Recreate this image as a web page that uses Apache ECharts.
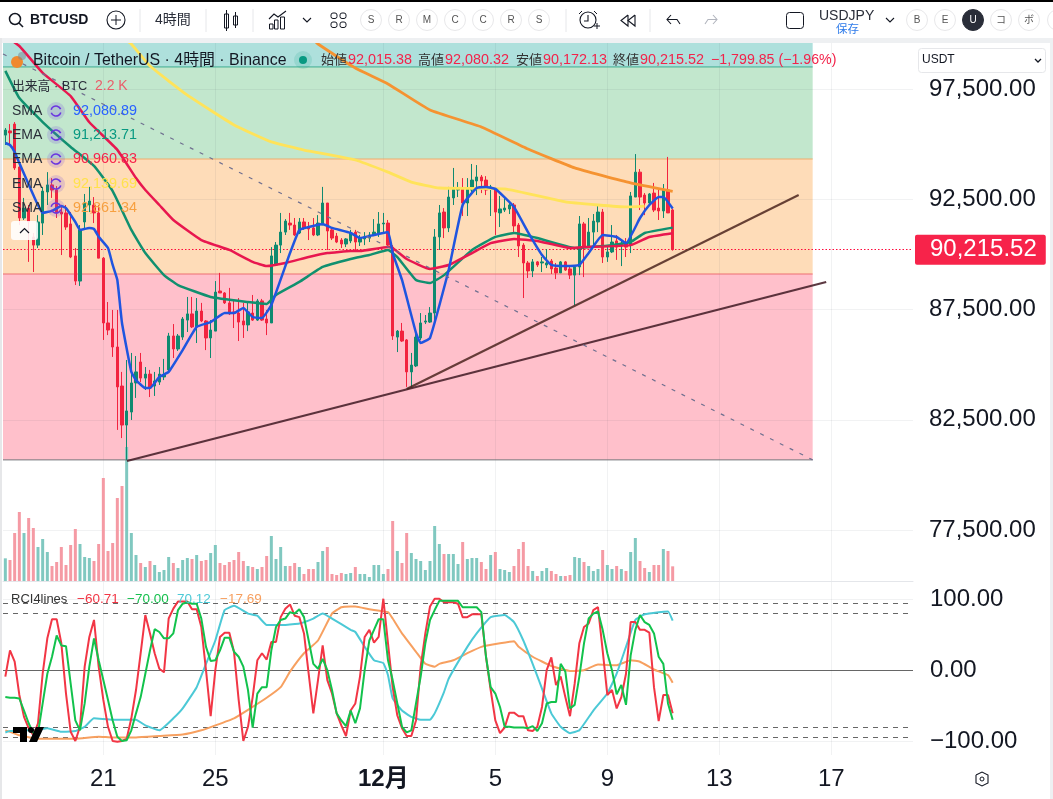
<!DOCTYPE html>
<html>
<head>
<meta charset="utf-8">
<title>BTCUSD</title>
<style>
  html, body { margin: 0; padding: 0; background: #fff; }
  #main { width: 1053px; height: 799px; }
</style>
</head>
<body>
<div id="main"></div>
<script src="https://cdn.jsdelivr.net/npm/echarts@6/dist/echarts.min.js"></script>
<script>
const openVals = [
  95410,95600,95910,93960,91650,92100,90790,90420,91420,92830,
  93150,92920,91920,91880,91380,89930,88790,91470,92240,92240,
  91880,89830,86890,86620,85800,84030,82260,82850,84170,85120,
  84390,84570,84030,84210,84440,84760,86300,85710,86250,87020,
  87300,86710,87430,86980,86210,86520,88340,88250,87800,87390,
  87340,86980,86800,87340,87020,87890,87070,86890,89520,90420,
  91010,91420,91330,90970,91470,91240,91200,90880,91330,92330,
  91110,90830,90650,90470,90610,91010,90560,90700,90740,90880,
  90970,91380,91420,90330,86250,86520,86120,84670,84940,86210,
  86930,86930,87340,90790,91920,91200,92560,92920,93010,92330,
  92920,93330,93510,93370,93010,92920,91880,92010,92060,92240,
  91330,90420,89610,89250,89660,89610,89520,89700,89380,89160,
  89660,89340,89060,89430,91380,90330,91010,91470,91920,89880,
  90110,90610,90420,90510,90420,92600,93730,92690,92330,92780,
  92100,91970,92920,92015.38
];
const highVals = [
  95730,95910,96000,94050,92560,92240,90970,91780,93060,93730,
  93460,93100,92150,92240,91920,90290,91330,92740,93060,92600,
  92240,89880,87840,87480,87480,84670,85210,85530,85390,85530,
  84890,84760,84670,84890,85260,86440,86840,86390,87160,88070,
  88070,88020,87800,87020,87020,88790,89160,88290,88480,87930,
  88020,87800,87840,88160,87980,87980,87480,90330,90560,91880,
  91600,91880,91650,91650,91650,91470,91650,91780,93060,92330,
  91200,90970,90740,90740,91110,91110,90880,91010,91010,91600,
  91920,91880,91560,90420,86570,86890,86160,85530,86440,87340,
  87250,87610,91150,92240,92100,93060,93920,93280,93460,93460,
  94100,94050,93600,93550,93150,93010,92650,92560,92380,92330,
  91420,90510,89700,89790,89700,89880,90240,89790,89610,89700,
  89700,89430,89430,91740,91470,91650,91830,92240,92060,90420,
  91330,90880,90650,90740,92830,94550,93870,92780,92780,93240,
  92920,93190,94420,92080.32
];
const lowVals = [
  94960,94960,93830,91330,91560,89660,89200,90290,90880,92240,
  92560,91650,89970,91110,89830,88610,88570,91110,91920,91420,
  89830,86120,86340,85350,82040,81670,80680,82490,83490,84210,
  83850,83530,83580,84080,84300,84670,85300,85620,86120,86480,
  86660,85980,86930,85660,85300,86520,88250,87750,87250,86660,
  86070,86210,86520,86980,86980,86980,86340,86890,89520,90060,
  90880,91110,90830,90920,91110,90650,90830,90830,91330,90200,
  90650,90510,90290,90330,90510,90200,90380,90420,90560,90830,
  90790,90970,90380,86120,85570,86030,83990,83990,84890,86120,
  86840,86890,86890,90200,90740,91010,92240,92600,91740,91740,
  92690,92690,92780,92690,91740,90880,91240,91920,91830,91010,
  89880,88020,88930,88970,89430,89200,89380,89110,88880,89160,
  89250,88880,87700,89060,88970,90290,90420,91010,89610,89660,
  90060,89750,89470,89880,90060,92600,92010,91780,92280,91920,
  91560,91650,91880,90172.13
];
const closeVals = [
  95640,95510,93920,91650,92100,91470,90420,91470,92870,93150,
  92920,91880,91830,91240,89880,88790,91110,92330,92420,91880,
  89830,86890,86570,85800,83990,82260,82900,84170,84670,84390,
  84570,83940,84260,84570,84530,86300,85710,86300,87070,87300,
  86710,87430,86980,86210,86570,88290,88250,87800,87300,87340,
  86930,86800,87390,87020,87890,87020,86890,89930,90420,91010,
  91510,91330,90880,91470,91200,91150,90880,91420,92330,91060,
  90740,90560,90470,90700,90970,90560,90740,90790,90880,91010,
  91380,91420,90420,86300,86520,86070,84670,84980,86250,86890,
  86980,87340,90790,91880,91200,92600,93010,93010,92330,93010,
  93370,93510,93330,92920,93060,91920,92060,92100,92240,91290,
  90380,89610,89250,89660,89520,89660,89610,89340,89160,89660,
  89290,89060,89430,91380,90330,91010,91510,91920,89880,90110,
  90560,90330,90510,90330,92650,93730,92600,92330,92740,92010,
  91970,92920,91880,90215.52
];
const volumeVals = [
  3400,3150,7200,10350,7200,9450,7950,5100,6300,4350,
  2250,2850,5100,2400,5400,7800,5550,3600,3450,3000,
  5550,15450,4500,5700,12450,14250,20100,7200,3900,2700,
  2100,3000,2400,1350,1650,3600,2700,1950,3150,3450,
  3300,3900,3000,3150,4200,5400,2700,2400,2850,3150,
  4350,3000,2250,2100,1800,2100,3750,6750,3300,5100,
  2250,2250,2700,2100,1050,1800,1800,2850,4500,5100,
  1050,900,1200,1050,1200,2100,1050,1050,600,2400,
  2400,1050,1800,9000,4500,2700,7200,4200,3300,3000,
  1650,3000,8250,5550,4050,4050,4050,2550,5850,3300,
  3450,3450,2850,1800,3900,4350,1800,1650,1350,2250,
  4800,5850,2250,1500,750,1500,1950,1500,1050,750,
  750,900,3600,3450,2850,2250,1500,1800,4650,2400,
  1800,2250,1800,1500,4350,6450,3000,1950,1350,2400,
  2400,4800,4500,2200
];

// moving averages as [bar, price] read at the turning points
const smaBlue = [
  [0,95050],[1,94960],[2,94640],[3,94140],[6,92690],[8,91880],[10,91970],[12,92190],[13,92100],
  [15,91470],[16,91110],[18,91200],[19,91150],[20,90800],[22,90290],[23,89520],[24,88840],[25,86890],
  [27,84670],[28,84300],[30,83940],[31,83940],[33,84440],[35,84670],[38,85660],[41,86710],[44,86930],
  [47,87340],[49,87340],[51,87570],[53,87160],[55,87120],[57,87700],[61,90060],[63,91110],[65,91240],
  [68,91380],[70,91200],[74,90970],[76,90740],[79,90880],[82,91010],[83,90060],[85,88840],[88,86440],
  [89,85980],[91,86210],[95,89290],[98,92240],[101,93010],[103,93060],[105,92970],[109,92150],[112,91010],
  [115,89970],[117,89520],[120,89470],[123,89520],[125,90060],[128,90880],[131,90790],[133,90510],
  [136,91650],[138,92240],[140,92600],[141,92600],[143,92080.89]
];
const emaRed = [
  [0,99900],[3,99450],[8,98230],[14,97180],[18,95990],[24,94740],[28,93460],[30,92920],[33,92240],
  [36,91560],[42,90650],[48,90200],[53,89660],[56,89470],[60,89610],[65,89880],[69,90060],[74,90150],
  [76,90150],[82,90330],[83,90290],[86,89790],[91,89340],[95,89520],[100,90060],[104,90510],[109,90700],
  [114,90610],[121,90290],[124,90330],[134,90420],[138,90790],[143,90960.83]
];
const emaGreen = [
  [0,98320],[3,97090],[8,96000],[14,94870],[19,94010],[23,92870],[27,91110],[30,90060],[34,89060],
  [37,88610],[44,88070],[52,87840],[56,87750],[58,88160],[63,88750],[68,89430],[74,89790],[78,89970],
  [82,90200],[84,89880],[88,88840],[91,88700],[94,89060],[100,90200],[105,90790],[109,90970],[114,90740],
  [122,90290],[130,90420],[134,90560],[137,90970],[143,91213.71]
];
const emaYellow = [
  [25,99860],[27,99540],[31,98540],[39,97220],[49,95870],[57,95100],[64,94730],[75,94280],[82,93730],
  [87,93280],[93,93010],[107,92970],[120,92380],[127,92240],[133,92150],[137,92190]
];
const smaOrange = [
  [66,99720],[67,99540],[75,98450],[82,97730],[91,96550],[102,95780],[112,94780],[122,93920],[134,93240],[143,92861.34]
];

// RCI4lines
const rciRed = [
  -9,28,12,-35,-66,-82,-92,-75,-5,45,72,72,38,-33,-87,-100,-80,5,47,71,
  5,-42,-80,-100,-101,-100,-97,-68,-28,24,78,52,24,2,-3,73,87,97,97,97,
  86,86,61,0,-65,0,47,53,53,26,-42,-100,-80,-38,14,24,15,40,40,75,
  87,93,77,75,52,-5,-61,-14,35,-14,-33,-61,-78,-93,-57,-47,-9,47,57,39,
  47,101,38,-24,-64,-82,-93,-93,-71,5,52,90,101,101,96,96,96,94,75,75,
  79,79,79,19,-28,-71,-89,-81,-60,-60,-65,-65,-85,-86,-80,-52,0,18,-21,-9,
  -38,-65,-19,38,61,66,85,89,28,-35,-28,-54,-38,-5,68,68,57,57,53,-24,
  -72,-35,-35,-60.71
];
const rciGreen = [
  -38,-39,-39,-40,-57,-75,-89,-89,-47,-5,19,49,35,34,-19,-71,-85,-47,5,45,
  14,-14,-42,-71,-94,-100,-99,-85,-61,-38,-5,28,58,54,45,45,52,85,94,96,
  94,94,73,33,13,14,28,46,46,26,19,5,-28,-81,-33,-24,-24,28,61,71,
  73,82,80,86,75,42,9,2,16,0,-28,-61,-71,-79,-57,-75,-54,0,42,57,
  72,72,14,-14,-47,-80,-88,-85,-47,-9,38,71,85,98,98,98,98,98,89,89,
  89,89,82,19,-24,-33,-52,-80,-80,-81,-81,-81,-82,-79,-86,-75,-47,-45,-45,9,
  -2,-54,-49,-9,38,73,80,83,57,24,0,-34,-21,-49,21,57,78,68,64,52,
  19,9,-47,-70.00
];
const rciCyan = [
  [0,-88],[1,-86],[7,-84],[9,-82],[12,-87],[15,-86],[17,-80],[19,-68],[23,-70],[28,-70],[30,-78],[33,-85],
  [36,-68],[38,-54],[41,-24],[43,9],[45,42],[47,85],[49,91],[52,80],[54,77],[56,64],[60,64],[63,66],[66,73],
  [68,80],[70,73],[74,57],[75,54],[77,33],[79,14],[81,10],[82,-7],[83,-40],[85,-57],[87,-66],[89,-70],[91,-70],
  [92,-61],[94,-31],[95,-12],[99,33],[101,52],[104,75],[107,78],[109,68],[111,42],[113,9],[115,-26],[117,-61],
  [119,-80],[121,-89],[123,-85],[126,-57],[129,-33],[131,-5],[133,33],[135,71],[137,79],[140,82],[142,83],[143,70.12]
];
const rciOrange = [
  [0,-85],[1,-87],[3,-92],[7,-97],[11,-97],[15,-97],[20,-94],[23,-95],[28,-95],[33,-93],[38,-91],[42,-85],
  [45,-78],[49,-68],[52,-56],[56,-39],[59,-24],[61,-2],[64,24],[67,42],[70,80],[72,89],[74,90],[75,90],[78,86],
  [82,82],[83,73],[85,52],[88,26],[90,9],[92,5],[93,9],[96,14],[99,24],[102,33],[106,38],[109,41],[110,33],
  [113,19],[117,6],[121,-1],[124,0],[127,8],[131,7],[134,14],[136,12],[139,1],[142,-7],[143,-17.69]
];

// drawings on the chart: [bar, price]
const trendLower = [[26.07,80630],[175.9,88750]];
const trendUpper = [[86,83900],[170,92690]];
const trendDashed = [[-0.5,99090],[173,80680]];
const zoneEndBar = 173;
const zoneBounds = [99586,98500,94325,89110,80680];
const zoneColors = ['#aee0dc','#c2e7cd','#fedcb8','#ffc0cb'];
const zoneEdgeColors = ['#3fae8f','#eeac6c','#ee6f72','#74787c'];

const dayBars = [21,45,81,105,129,153,177];
const dayLabels = ['21','25','12月','5','9','13','17'];
const priceTicks = [77500,82500,87500,92500,97500];
const rciTicks = [100,0,-100];
const rciDashes = [95,80,-80,-95];
const lastPrice = 90215.52;

const barCount = 195;
const barNames = Array.from({length: barCount}, (_, i) => String(i));

const upColor = '#0f8a70';
const downColor = '#f2233f';
const uiFont = '"Liberation Sans","Noto Sans CJK JP",sans-serif';

var chart = echarts.init(document.getElementById('main'), null, {renderer: 'canvas'});

const fmtPrice = v => v.toLocaleString('en-US', {minimumFractionDigits: 2, maximumFractionDigits: 2}).replace('-', '−');

function maLine(name, data, color, width, xIdx, yIdx, z) {
  return {
    name: name, type: 'line', data: data,
    xAxisIndex: xIdx, yAxisIndex: yIdx,
    showSymbol: false, symbol: 'none', smooth: 0.12, z: z || 4,
    lineStyle: {color: color, width: width},
    silent: true
  };
}

function txt(x, y, text, color, size, extra) {
  return {
    type: 'text', z: 100, silent: true,
    style: Object.assign({x: x, y: y, text: text, fill: color, font: (size || 14) + 'px ' + uiFont,
      verticalAlign: 'middle', textAlign: 'left'}, extra || {})
  };
}
function rect(x, y, w, h, fill, r, stroke) {
  return {type: 'rect', z: 90, silent: true, shape: {x: x, y: y, width: w, height: h, r: r || 0},
    style: {fill: fill, stroke: stroke || null, lineWidth: stroke ? 1 : 0}};
}
function ln(x1, y1, x2, y2, color, w) {
  return {type: 'line', z: 95, silent: true, shape: {x1: x1, y1: y1, x2: x2, y2: y2},
    style: {stroke: color, lineWidth: w || 1}};
}
function circ(x, y, r, fill, stroke, w) {
  return {type: 'circle', z: 95, silent: true, shape: {cx: x, cy: y, r: r},
    style: {fill: fill || 'transparent', stroke: stroke || null, lineWidth: w || 1}};
}
function poly(points, stroke, w, fill) {
  return {type: fill ? 'polygon' : 'polyline', z: 95, silent: true, shape: {points: points},
    style: {stroke: stroke || null, lineWidth: w || 1.3, fill: fill || 'transparent'}};
}
function pill(x, letter, dark) {
  return [
    circ(x, 20, 10.5, dark ? '#2a2e39' : '#fff', dark ? '#2a2e39' : '#e8e8ea', 1),
    txt(x, 20, letter, dark ? '#fff' : '#555', 10, {textAlign: 'center'})
  ];
}

// toolbar, header strip and the other bits of chrome
let chrome = [
  rect(0, 0, 1053, 2, '#000'),
  rect(0, 38, 1053, 5, '#eef0f2'),
  rect(0, 38, 2, 761, '#e6e7e9'),
  rect(1050, 38, 3, 761, '#eef0f2'),
  // search
  circ(15, 19, 5.5, null, '#131722', 1.5), ln(19, 23, 23, 27, '#131722', 1.6),
  txt(30, 20, 'BTCUSD', '#131722', 14, {font: 'bold 14px ' + uiFont}),
  circ(116, 20, 9, null, '#131722', 1.1), ln(111, 20, 121, 20, '#131722'), ln(116, 15, 116, 25, '#131722'),
  ln(140, 9, 140, 32, '#e6e7ea'),
  txt(155, 20, '4時間', '#2a2e39', 14),
  ln(206, 9, 206, 32, '#e6e7ea'),
  // candle icon
  rect(224.5, 14, 4, 14, '#fff', 0, '#131722'), ln(226.5, 10, 226.5, 31, '#131722'),
  rect(233.5, 16, 4, 9, '#fff', 0, '#131722'), ln(235.5, 12, 235.5, 28, '#131722'),
  ln(253, 9, 253, 32, '#e6e7ea'),
  // indicators icon
  poly([[269, 19], [274, 14], [278, 17], [286, 11]], '#131722', 1.1),
  rect(269.5, 24, 3.5, 5, '#fff', 0, '#131722'), rect(274.5, 20, 3.5, 9, '#fff', 0, '#131722'), rect(280.5, 17, 4, 12, '#fff', 0, '#131722'),
  poly([[303, 18], [307, 22], [311, 18]], '#131722', 1.1),
  // layout icon
  rect(331, 13, 6, 5.5, '#fff', 2, '#131722'), rect(340, 13, 6, 5.5, '#fff', 2, '#131722'),
  rect(331, 22, 6, 5.5, '#fff', 2, '#131722'), rect(340, 22, 6, 5.5, '#fff', 2, '#131722'),
  ln(566, 9, 566, 32, '#e6e7ea'),
  // alarm
  circ(588, 20, 8, null, '#131722', 1.1), poly([[588, 15], [588, 21], [584, 21]], '#131722', 1.1),
  ln(579, 14, 582, 11, '#131722'), ln(594, 11, 597, 14, '#131722'), ln(594, 26, 600, 26, '#131722'), ln(597, 23, 597, 29, '#131722'),
  // rewind
  poly([[628, 15], [621, 20.5], [628, 26], [628, 15]], '#131722', 1.1), poly([[635, 15], [628, 20.5], [635, 26], [635, 15]], '#131722', 1.1),
  ln(650, 9, 650, 32, '#e6e7ea'),
  // undo, redo
  poly([[671, 15], [667, 19.5], [671, 24]], '#131722', 1.1), poly([[667, 19.5], [677, 19.5], [680, 24]], '#131722', 1.1),
  poly([[713, 15], [717, 19.5], [713, 24]], '#b2b5be', 1.1), poly([[717, 19.5], [708, 19.5], [705, 24]], '#b2b5be', 1.1),
  // saved layout
  rect(786.5, 12.5, 17, 16, '#fff', 3, '#131722'),
  txt(819, 16, 'USDJPY', '#2a2e39', 14),
  txt(836, 30, '保存', '#2e7bea', 11.5),
  poly([[886, 18], [890, 22], [894, 18]], '#131722', 1.1),
  // price scale selector
  rect(918.5, 48.5, 127, 24, '#fff', 3, '#e6e7ea'),
  txt(922, 60, 'USDT', '#131722', 12),
  poly([[1035, 59], [1038, 62], [1041, 59]], '#131722', 1.3),
  // legend, first line
  circ(17, 62, 6, '#f0892e'),
  circ(22, 56, 4, 'rgba(120,130,140,.5)'),
  txt(33, 61, 'Bitcoin / TetherUS · 4時間 · Binance', '#131722', 15.9),
  circ(303, 60, 9, 'rgba(8,153,129,.14)'), circ(303, 60, 4, '#089981'),
  txt(321, 60, '始値', '#333', 13), txt(348, 60.5, '92,015.38', '#f2234a', 14.4),
  txt(418, 60, '高値', '#333', 13), txt(445, 60.5, '92,080.32', '#f2234a', 14.4),
  txt(516, 60, '安値', '#333', 13), txt(543, 60.5, '90,172.13', '#f2234a', 14.4),
  txt(613, 60, '終値', '#333', 13), txt(640, 60.5, '90,215.52', '#f2234a', 14.4),
  txt(711, 60.5, '−1,799.85 (−1.96%)', '#f2234a', 14.2),
  // volume row
  txt(12, 86, '出来高 · BTC', '#2a2e39', 12.8),
  txt(95, 86, '2.2 K', '#ea5d6a', 14),
  // RCI legend
  txt(11, 599, 'RCI4lines', '#333', 13),
  txt(77, 599, '−60.71', '#f23645', 13.5),
  txt(127, 599, '−70.00', '#16c04e', 13.5),
  txt(177, 599, '70.12', '#4cc9d6', 13.5),
  txt(220, 599, '−17.69', '#f7a060', 13.5),
  // collapse arrow
  rect(11, 221, 27, 19, 'rgba(255,255,255,.88)', 3),
  poly([[20, 233], [24.5, 228.5], [29, 233]], '#131722', 1.2),
  // tradingview mark
  rect(13, 727, 14, 6, '#000'), rect(20, 727, 7, 15, '#000'),
  circ(31, 730, 3, '#000'),
  poly([[36, 727], [44, 727], [37, 742], [29, 742]], null, 0, '#000'),
  // settings, bottom right
  poly([[976, 775], [982, 772], [988, 775], [988, 783], [982, 786], [976, 783], [976, 775]], '#131722', 1.1),
  circ(982, 779, 2, null, '#131722', 1)
];
[[371, 'S'], [399, 'R'], [427, 'M'], [455, 'C'], [483, 'C'], [511, 'R'], [539, 'S'],
 [917, 'B'], [945, 'E'], [1001, 'コ'], [1029, 'ボ']].forEach(p => { chrome = chrome.concat(pill(p[0], p[1])); });
chrome = chrome.concat(pill(973, 'U', true));
chrome.push(circ(1058, 20, 10.5, '#fff', '#e8e8ea', 1));
[[111, 'SMA', '92,080.89', '#2962ff'], [135, 'EMA', '91,213.71', '#089981'], [159, 'EMA', '90,960.83', '#f7234a'],
 [184, 'EMA', '92,139.69', '#ffe14d'], [208, 'SMA', '92,861.34', '#f7a040']].forEach(r => {
  chrome.push(txt(12, r[0], r[1], '#2a2e39', 14));
  chrome.push(circ(56, r[0], 9, 'rgba(120,80,220,.2)'));
  chrome.push({type: 'arc', z: 95, silent: true, shape: {cx: 56, cy: r[0], r: 5, startAngle: 0.3, endAngle: 2.8}, style: {stroke: '#6a35e0', lineWidth: 1.6, fill: 'transparent'}});
  chrome.push({type: 'arc', z: 95, silent: true, shape: {cx: 56, cy: r[0], r: 5, startAngle: 3.4, endAngle: 5.9}, style: {stroke: '#6a35e0', lineWidth: 1.6, fill: 'transparent'}});
  chrome.push(txt(73, r[0], r[2], r[3], 14.4));
});

const faintGrid = {color: 'rgba(60,70,90,0.07)', width: 1, type: 'solid'};

var option = {
  animation: false,
  backgroundColor: '#fff',
  graphic: {elements: chrome},
  grid: [
    {left: 3, right: 140, top: 43, height: 538},
    {left: 3, right: 140, top: 582, height: 173}
  ],
  xAxis: [
    {type: 'category', gridIndex: 0, data: barNames, boundaryGap: true,
      axisLine: {show: true, lineStyle: {color: '#e4e6ea'}}, axisTick: {show: false}, axisLabel: {show: false}, splitLine: {show: false}},
    {type: 'value', gridIndex: 0, min: -0.5, max: barCount - 0.5, show: false},
    {type: 'category', gridIndex: 1, data: barNames, boundaryGap: true,
      axisLine: {show: false}, axisTick: {show: false}, splitLine: {show: false},
      axisLabel: {
        show: true, margin: 12, fontSize: 24, color: '#131722', fontFamily: uiFont,
        hideOverlap: false,
        interval: (i) => dayBars.indexOf(i) >= 0,
        formatter: (v, i) => {
          const s = dayLabels[dayBars.indexOf(i)];
          return s === '12月' ? '{b|' + s + '}' : s;
        },
        rich: {b: {fontSize: 24, fontWeight: 'bold', color: '#131722', fontFamily: uiFont}}
      }},
    {type: 'value', gridIndex: 1, min: -0.5, max: barCount - 0.5, show: false}
  ],
  yAxis: [
    {type: 'value', gridIndex: 0, position: 'right', min: 75188, max: 99586, scale: true,
      axisLine: {show: false}, axisTick: {show: false}, splitLine: {show: false},
      axisLabel: {customValues: priceTicks, margin: 16, fontSize: 24, color: '#131722', fontFamily: uiFont, formatter: fmtPrice}},
    {type: 'value', gridIndex: 0, min: 0, max: 80700, show: false},
    {type: 'value', gridIndex: 1, position: 'right', min: -119.86, max: 124.66,
      axisLine: {show: false}, axisTick: {show: false}, splitLine: {show: false},
      axisLabel: {customValues: rciTicks, margin: 17, fontSize: 24, color: '#131722', fontFamily: uiFont, formatter: fmtPrice}}
  ],
  series: [
    // zones, grid lines and level lines
    {type: 'line', xAxisIndex: 1, yAxisIndex: 0, data: [], silent: true, symbol: 'none',
      markArea: {silent: true, z: 1,
        data: zoneColors.map((c, i) => [
          {coord: [-0.5, zoneBounds[i]], itemStyle: {color: c}},
          {coord: [zoneEndBar, zoneBounds[i + 1]]}
        ])
      },
      markLine: {silent: true, symbol: 'none', z: 2, animation: false, label: {show: false}, lineStyle: faintGrid,
        data: priceTicks.map(p => ({yAxis: p})).concat(dayBars.map(b => ({xAxis: b})))}
    }
  ].concat(zoneEdgeColors.map((c, i) => ({
    type: 'line', xAxisIndex: 1, yAxisIndex: 0, symbol: 'none', silent: true, z: 2,
    data: [[-0.5, zoneBounds[i + 1]], [zoneEndBar, zoneBounds[i + 1]]],
    lineStyle: {color: c, width: 1}
  }))).concat([
    {name: 'Volume', type: 'bar', xAxisIndex: 0, yAxisIndex: 1, barWidth: 3, z: 2, silent: true,
      data: volumeVals.map((v, i) => ({value: v, itemStyle: {color: closeVals[i] >= openVals[i] ? '#80c8c0' : '#f59aa4'}}))},
    {name: 'BTCUSD', type: 'candlestick', xAxisIndex: 0, yAxisIndex: 0, barWidth: 2.6, z: 3, silent: true,
      data: openVals.map((o, i) => [o, closeVals[i], lowVals[i], highVals[i]]),
      itemStyle: {color: upColor, color0: downColor, borderColor: upColor, borderColor0: downColor, borderWidth: 1}},
    // last price
    {type: 'line', xAxisIndex: 1, yAxisIndex: 0, data: [], symbol: 'none', silent: true,
      markLine: {silent: true, symbol: 'none', z: 3, animation: false,
        label: {show: true, position: 'end', distance: 2, formatter: () => fmtPrice(lastPrice), color: '#fff', fontSize: 24, fontFamily: uiFont,
          backgroundColor: '#f7234a', padding: [3, 9, 3, 15], borderRadius: 2},
        data: [{yAxis: lastPrice, lineStyle: {color: '#ff0a3c', width: 1, type: [1.5, 2]}}]}},
    maLine('SMA200', smaOrange, '#f59331', 2.8, 1, 0),
    maLine('EMA200', emaYellow, '#ffe35a', 2.8, 1, 0),
    maLine('EMA75', emaGreen, '#10906f', 2.5, 1, 0),
    maLine('EMA25', emaRed, '#e8174f', 2.5, 1, 0),
    maLine('SMA5', smaBlue, '#1f55e0', 2.5, 1, 0),
    // trend lines
    {type: 'line', xAxisIndex: 1, yAxisIndex: 0, data: trendLower, symbol: 'none', silent: true, z: 5, lineStyle: {color: 'rgba(70,30,40,0.88)', width: 2.2}},
    {type: 'line', xAxisIndex: 1, yAxisIndex: 0, data: trendUpper, symbol: 'none', silent: true, z: 5, lineStyle: {color: 'rgba(70,30,25,0.82)', width: 2.2}},
    {type: 'line', xAxisIndex: 1, yAxisIndex: 0, data: trendDashed, symbol: 'none', silent: true, z: 5, lineStyle: {color: '#707090', width: 1.2, type: [4, 7]}},
    // RCI pane
    {type: 'line', xAxisIndex: 3, yAxisIndex: 2, data: [], symbol: 'none', silent: true,
      markLine: {silent: true, symbol: 'none', z: 2, animation: false, label: {show: false},
        data: [
          {yAxis: 100, lineStyle: faintGrid}, {yAxis: -100, lineStyle: faintGrid},
          {yAxis: 0, lineStyle: {color: '#666', width: 1, type: 'solid'}}
        ].concat(rciDashes.map(v => ({yAxis: v, lineStyle: {color: '#666', width: 1, type: [5, 5]}})))
          .concat(dayBars.map(b => ({xAxis: b, lineStyle: faintGrid})))}},
    maLine('RCI long', rciOrange, '#f7a060', 2, 3, 2),
    maLine('RCI mid', rciCyan, '#4cc9d6', 2, 3, 2),
    {name: 'RCI short', type: 'line', data: rciRed, xAxisIndex: 2, yAxisIndex: 2, symbol: 'none', silent: true, z: 4, lineStyle: {color: '#f23645', width: 2}},
    {name: 'RCI fast', type: 'line', data: rciGreen, xAxisIndex: 2, yAxisIndex: 2, symbol: 'none', silent: true, z: 4, lineStyle: {color: '#12c24c', width: 2}}
  ])
};

chart.setOption(option);
</script>
</body>
</html>
